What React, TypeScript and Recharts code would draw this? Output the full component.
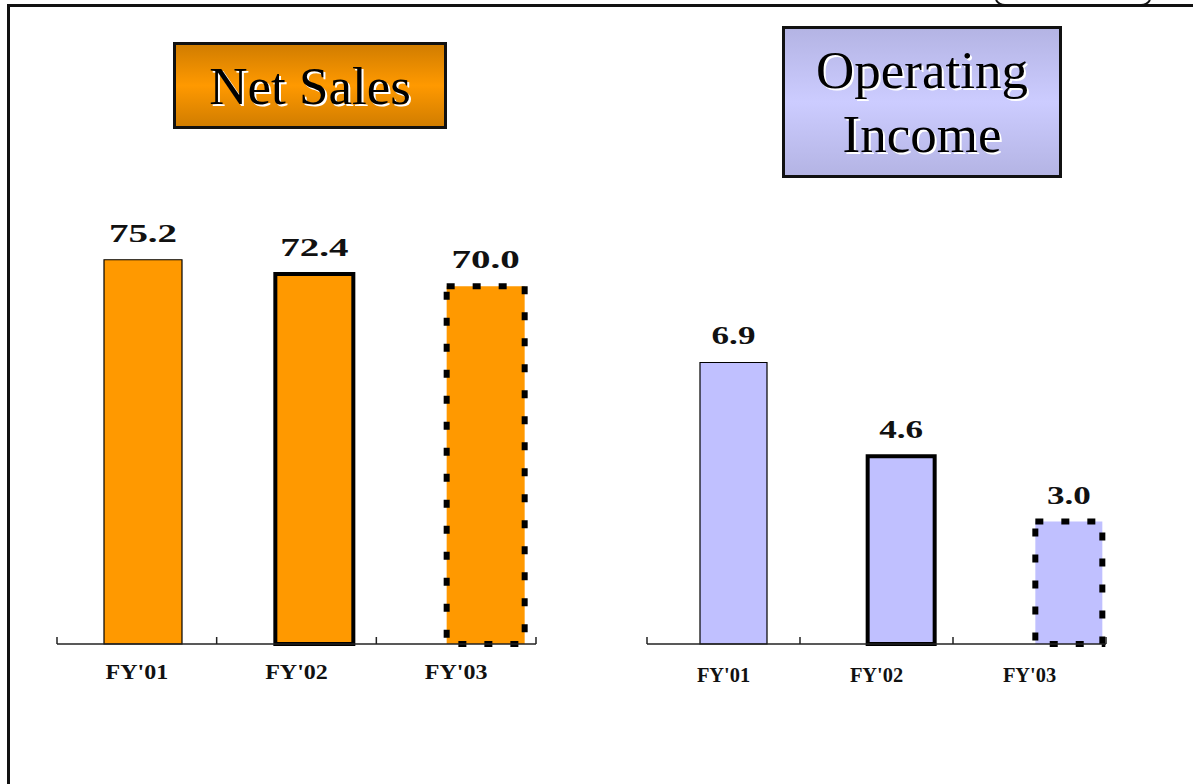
import { BarChart, Bar, XAxis, YAxis, Cell, LabelList } from 'recharts'

const fiscalYears = ["FY'01", "FY'02", "FY'03"]
const netSales = [75.2, 72.4, 70.0]
const operatingIncome = [6.9, 4.6, 3.0]

// FY'01 / FY'02 results, FY'03 forecast (dotted)
const outlineWidths = [1.2, 4, 6]
const outlineDashes = [undefined, undefined, '8 18']

const salesRows = fiscalYears.map((year, i) => ({ year, value: netSales[i] }))
const incomeRows = fiscalYears.map((year, i) => ({ year, value: operatingIncome[i] }))

const serif = "'Liberation Serif', 'Times New Roman', serif"

// label in the middle of the band, small upward ticks on the band edges
function YearTick(props: any) {
  const { x, y, payload, index, visibleTicksCount, width, stretch, labelDy } = props
  const half = payload.offset ?? width / visibleTicksCount / 2
  const last = index === visibleTicksCount - 1
  return (
    <g>
      <line x1={x - half} y1={y} x2={x - half} y2={y - 7} stroke="#222" strokeWidth={1.5} />
      {last && <line x1={x + half} y1={y} x2={x + half} y2={y - 7} stroke="#222" strokeWidth={1.5} />}
      <text
        transform={`translate(${x},${y + labelDy}) scale(${stretch},1)`}
        textAnchor="middle"
        fontFamily={serif}
        fontWeight="bold"
        fontSize={20}
        fill="#111"
      >
        {payload.value}
      </text>
    </g>
  )
}

function ValueLabel(props: any) {
  const vb = props.viewBox ?? props
  const cx = vb.x + vb.width / 2
  return (
    <text
      transform={`translate(${cx},${vb.y - 18}) scale(${props.stretch},1)`}
      textAnchor="middle"
      fontFamily={serif}
      fontWeight="bold"
      fontSize={26}
      fill="#111"
    >
      {Number(props.value).toFixed(1)}
    </text>
  )
}

function YearChart({ rows, color, max, margin, width, barSize, barPadding, labelDy, tickStretch, valueStretch }: any) {
  return (
    <BarChart width={width} height={784} data={rows} margin={margin}>
      <YAxis hide domain={[0, max]} />
      <XAxis xAxisId="bars" dataKey="year" hide height={0} padding={barPadding} />
      <XAxis
        xAxisId="years"
        dataKey="year"
        interval={0}
        height={60}
        tickSize={0}
        tickMargin={0}
        tickLine={false}
        axisLine={{ stroke: '#222', strokeWidth: 1.5 }}
        tick={<YearTick labelDy={labelDy} stretch={tickStretch} />}
      />
      <Bar xAxisId="bars" dataKey="value" fill={color} barSize={barSize} isAnimationActive={false}>
        {rows.map((_: any, i: number) => (
          <Cell key={i} fill={color} stroke="#000" strokeWidth={outlineWidths[i]} strokeDasharray={outlineDashes[i]} />
        ))}
        <LabelList dataKey="value" position="top" content={<ValueLabel stretch={valueStretch} />} />
      </Bar>
    </BarChart>
  )
}

const titleText = {
  fontFamily: serif,
  fontSize: 53,
  color: '#000',
  textShadow: '2px 2px 0 #fff',
  textAlign: 'center' as const,
}

export default function App() {
  return (
    <div style={{ position: 'absolute', left: 0, top: 0, width: 1193, height: 784, overflow: 'hidden', background: '#fff' }}>
      <div style={{ position: 'absolute', left: 7, top: 4, width: 1300, height: 900, borderLeft: '3px solid #111', borderTop: '3px solid #111' }} />
      <svg width={1193} height={10} style={{ position: 'absolute', left: 0, top: 0 }}>
        <path d="M 996 0 Q 999 5 1005 5" fill="none" stroke="#111" strokeWidth={2} />
        <path d="M 1150 0 Q 1147 5 1141 5" fill="none" stroke="#111" strokeWidth={2} />
      </svg>

      <div style={{ position: 'absolute', left: 0, top: 0 }}>
        <YearChart
          rows={salesRows}
          color="#FF9900"
          max={100}
          width={600}
          margin={{ top: 133, right: 64, bottom: 80, left: 57 }}
          barSize={78}
          barPadding={{ left: 0, right: -35 }}
          labelDy={35}
          tickStretch={1.2}
          valueStretch={1.5}
        />
      </div>
      <div style={{ position: 'absolute', left: 600, top: 0 }}>
        <YearChart
          rows={incomeRows}
          color="#C0C0FF"
          max={10}
          width={593}
          margin={{ top: 236, right: 87, bottom: 80, left: 47 }}
          barSize={67}
          barPadding={{ left: 3, right: -47 }}
          labelDy={38}
          tickStretch={1.02}
          valueStretch={1.35}
        />
      </div>

      <div
        style={{
          position: 'absolute', left: 173, top: 42, width: 274, height: 87, boxSizing: 'border-box',
          border: '3px solid #111',
          background: 'linear-gradient(to bottom, #D17D00 0%, #FF9900 50%, #D17D00 100%)',
          display: 'flex', alignItems: 'center', justifyContent: 'center',
        }}
      >
        <div style={{ ...titleText, lineHeight: '60px' }}>Net Sales</div>
      </div>
      <div
        style={{
          position: 'absolute', left: 782, top: 26, width: 280, height: 152, boxSizing: 'border-box',
          border: '3px solid #111',
          background: 'linear-gradient(to bottom, #B4B4E4 0%, #CCCCFF 50%, #B4B4E4 100%)',
          display: 'flex', alignItems: 'center', justifyContent: 'center',
        }}
      >
        <div style={{ ...titleText, lineHeight: '64px' }}>Operating<br />Income</div>
      </div>
    </div>
  )
}
